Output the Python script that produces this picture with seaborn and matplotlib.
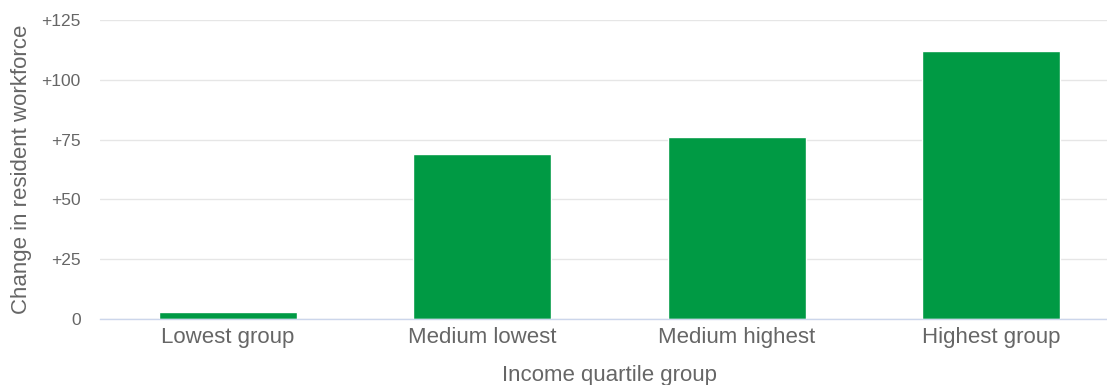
import numpy as np
import pandas as pd
import matplotlib.pyplot as plt
import seaborn as sns

groups = ['Lowest group', 'Medium lowest', 'Medium highest', 'Highest group']
change = [3, 69, 76, 112]
yticks = [0, 25, 50, 75, 100, 125]
ytick_labels = ['0', '+25', '+50', '+75', '+100', '+125']

df = pd.DataFrame({'group': groups, 'change': change})

sns.set_style('white')
plt.rcParams['font.family'] = ['Liberation Sans', 'DejaVu Sans']

fig = plt.figure(figsize=(11.07, 3.85), dpi=100)
ax = fig.add_axes([0.0903, 0.1714, 0.9097, 0.7766])

sns.barplot(data=df, x='group', y='change', color='#009a44', width=0.543,
            saturation=1, ax=ax)

ax.set_ylim(0, 125)
ax.set_xlim(-0.504, 3.457)
ax.set_yticks(yticks)
ax.set_yticklabels(ytick_labels)
ax.yaxis.grid(True, color='#e6e6e6', linewidth=1)
ax.set_axisbelow(True)
for s in ['top', 'right', 'left']:
    ax.spines[s].set_visible(False)
ax.spines['bottom'].set_color('#ccd6eb')
ax.spines['bottom'].set_linewidth(1)

ax.tick_params(axis='y', length=0, pad=14, labelsize=12.5, labelcolor='#666666')
ax.tick_params(axis='x', length=0, pad=6, labelsize=16, labelcolor='#666666')

ax.set_xlabel('Income quartile group', fontsize=16, color='#666666')
ax.xaxis.set_label_coords(0.506, -0.155)
ax.xaxis.label.set_verticalalignment('top')
ax.set_ylabel('Change in resident workforce', fontsize=16, color='#666666')
ax.yaxis.set_label_coords(-0.067, 0.5)

fig.savefig('out.png', dpi=100)
